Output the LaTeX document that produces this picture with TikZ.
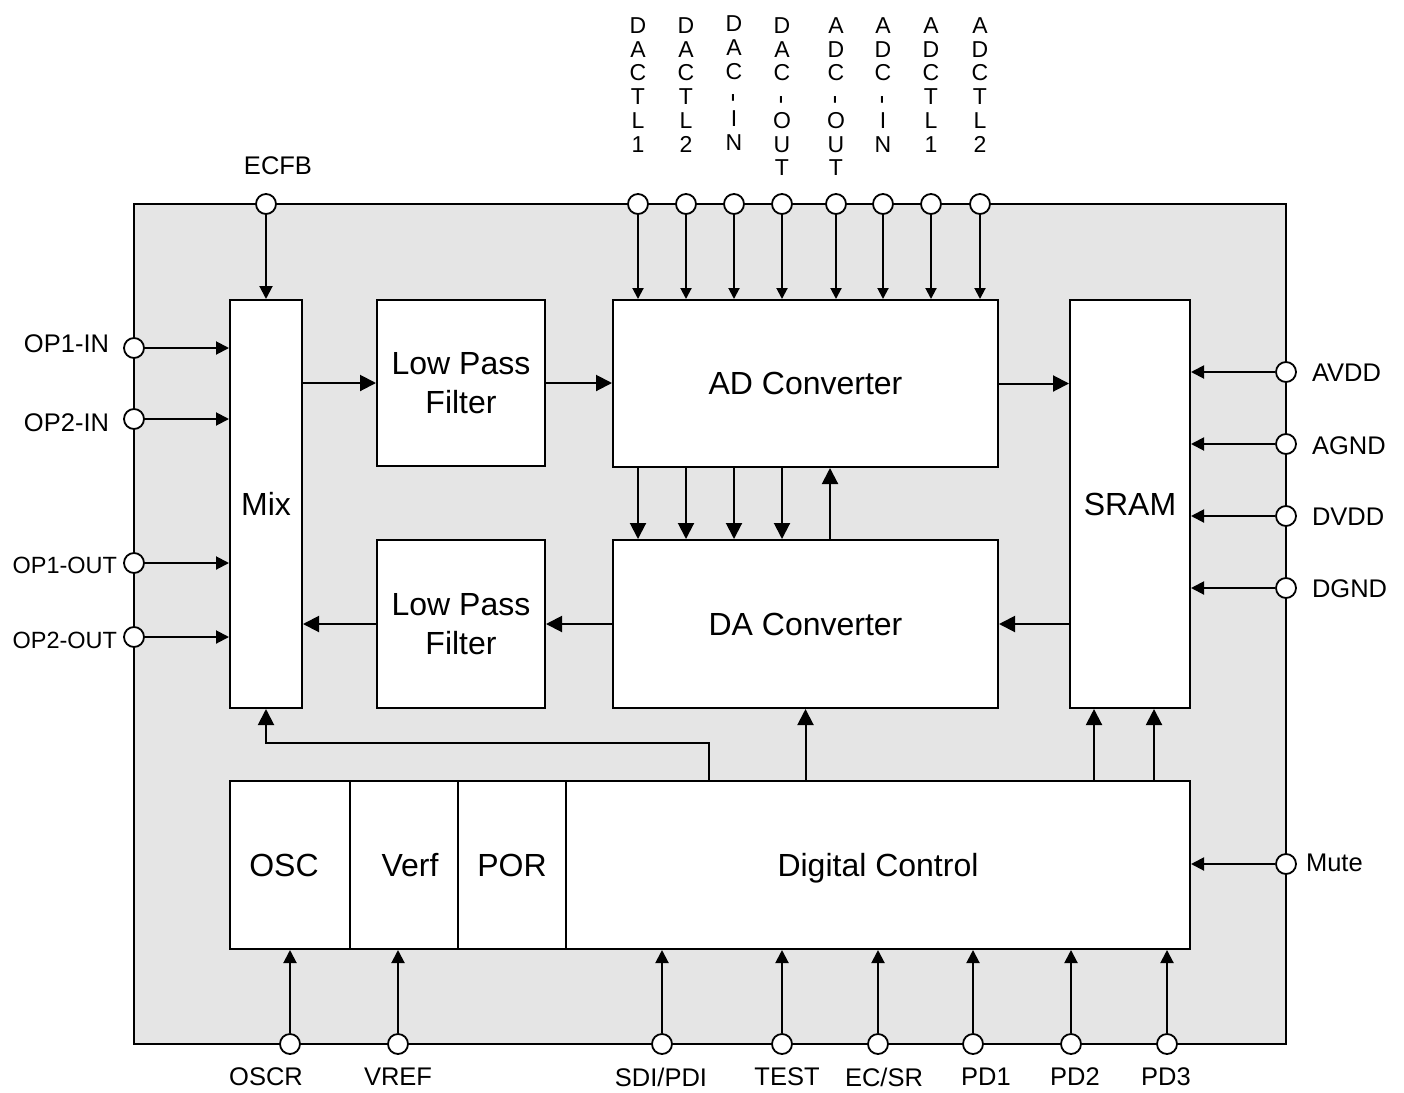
\documentclass[tikz,border=0pt]{standalone}
\usepackage{fontspec}
\setmainfont{Liberation Sans}
\usetikzlibrary{arrows.meta}
\definecolor{chipgray}{RGB}{229,229,229}
\newcommand{\vhy}{\rotatebox{90}{\raisebox{-0.232em}[0.082em][0pt]{\scalebox{1.2}[1.15]{-}}}}
\begin{document}
\begin{tikzpicture}[x=1pt,y=-1pt,line width=2pt,
  blk/.style={draw,fill=white,inner sep=0pt,font=\fontsize{32}{39}\selectfont,align=center},
  pinc/.style={draw,circle,fill=white,minimum size=20pt,inner sep=0pt,line width=1.8pt},
  plab/.style={inner sep=0pt,font=\fontsize{25.5}{28}\selectfont},
  olab/.style={inner sep=0pt,font=\fontsize{23.5}{26}\selectfont},
  vlab/.style={inner sep=0pt,font=\fontsize{23}{23.7}\selectfont,align=center,anchor=north},
  arbig/.style={-{Triangle[length=16pt,width=16pt]}},
  arsm/.style={-{Triangle[length=13pt,width=13pt]}},
  artiny/.style={-{Triangle[length=11pt,width=11pt]}}]
\useasboundingbox (0,0) rectangle (1404,1092);
% chip outline
\node[draw,fill=chipgray,minimum width=1152pt,minimum height=840pt,inner sep=0pt] (chip) at (710,624) {};
% blocks
\node[blk,minimum width=72pt,minimum height=408pt] (mix) at (266,504) {Mix};
\node[blk,minimum width=168pt,minimum height=166pt] (lpf1) at (461,383) {Low Pass\\Filter};
\node[blk,minimum width=168pt,minimum height=168pt] (lpf2) at (461,624) {Low Pass\\Filter};
\node[blk,minimum width=385pt,minimum height=167pt] (ad) at (805.5,383.5) {AD Converter};
\node[blk,minimum width=385pt,minimum height=168pt] (da) at (805.5,624) {DA Converter};
\node[blk,minimum width=120pt,minimum height=408pt] (sram) at (1130,504) {SRAM};
\node[blk,minimum width=120pt,minimum height=168pt] (osc) at (290,865) {OSC\hspace{12pt}};
\node[blk,minimum width=108pt,minimum height=168pt] (verf) at (404,865) {\hspace{12pt}Verf};
\node[blk,minimum width=108pt,minimum height=168pt] (por) at (512,865) {POR};
\node[blk,minimum width=624pt,minimum height=168pt,text depth=0pt] (dcl) at (878,865) {Digital Control};
% pins
\node[pinc] (ecfb) at (266,204) {};
\foreach \i/\x in {1/638,2/686,3/734,4/782,5/836,6/883,7/931,8/980}
  \node[pinc] (p\i) at (\x,204) {};
\node[pinc] (op1in) at (134,348) {};
\node[pinc] (op2in) at (134,419) {};
\node[pinc] (op1out) at (134,563) {};
\node[pinc] (op2out) at (134,637) {};
\node[pinc] (avdd) at (1286,372) {};
\node[pinc] (agnd) at (1286,444) {};
\node[pinc] (dvdd) at (1286,516) {};
\node[pinc] (dgnd) at (1286,588) {};
\node[pinc] (mute) at (1286,864) {};
\node[pinc] (oscr) at (290,1044) {};
\node[pinc] (vref) at (398,1044) {};
\node[pinc] (sdi) at (662,1044) {};
\node[pinc] (test) at (782,1044) {};
\node[pinc] (ecsr) at (878,1044) {};
\node[pinc] (pd1) at (973,1044) {};
\node[pinc] (pd2) at (1071,1044) {};
\node[pinc] (pd3) at (1167,1044) {};
% pin labels
\node[plab] (lecfb) at (278,166) {ECFB};
\node[vlab] (l1) at (638,16.7) {D\\A\\C\\T\\L\\1};
\node[vlab] (l2) at (686,16.7) {D\\A\\C\\T\\L\\2};
\node[vlab] (l3) at (734,15) {D\\A\\C\\\vhy\\I\\N};
\node[vlab] (l4) at (782,16.7) {D\\A\\C\\\vhy\\O\\U\\T};
\node[vlab] (l5) at (836,16.7) {A\\D\\C\\\vhy\\O\\U\\T};
\node[vlab] (l6) at (883,16.7) {A\\D\\C\\\vhy\\I\\N};
\node[vlab] (l7) at (931,16.7) {A\\D\\C\\T\\L\\1};
\node[vlab] (l8) at (980,16.7) {A\\D\\C\\T\\L\\2};
\node[plab,anchor=east] (lop1in) at (110,344) {OP1-IN};
\node[plab,anchor=east] (lop2in) at (110,423) {OP2-IN};
\node[olab,anchor=east] (lop1out) at (118,565) {OP1-OUT};
\node[olab,anchor=east] (lop2out) at (118,640) {OP2-OUT};
\node[plab,anchor=west] (lavdd) at (1311,373) {AVDD};
\node[plab,anchor=west] (lagnd) at (1311,446) {AGND};
\node[plab,anchor=west] (ldvdd) at (1311,517) {DVDD};
\node[plab,anchor=west] (ldgnd) at (1311,589) {DGND};
\node[plab,anchor=west] (lmute) at (1305,863) {Mute};
\node[plab] (loscr) at (266,1077) {OSCR};
\node[plab] (lvref) at (398,1077) {VREF};
\node[plab] (lsdi) at (661,1077) {SDI/PDI};
\node[plab] (ltest) at (787,1077) {TEST};
\node[plab] (lecsr) at (884,1077) {EC/SR};
\node[plab] (lpd1) at (986,1077) {PD1};
\node[plab] (lpd2) at (1075,1077) {PD2};
\node[plab] (lpd3) at (1166,1077) {PD3};
% internal connectors
\draw[arbig] (mix.east |- lpf1) -- (lpf1.west);
\draw[arbig] (lpf1.east) -- (lpf1.east -| ad.west);
\draw[arbig] (ad.east) -- (ad.east -| sram.west);
\draw[arbig] (sram.west |- da) -- (da.east);
\draw[arbig] (da.west) -- (da.west -| lpf2.east);
\draw[arbig] (lpf2.west) -- (lpf2.west -| mix.east);
\foreach \i in {1,2,3,4}
  \draw[arbig] (ad.south -| p\i) -- (da.north -| p\i);
\coordinate (u1) at (830,0);
\draw[arbig] (da.north -| u1) -- (ad.south -| u1);
\draw[arbig] (dcl.north -| da.south) -- (da.south);
\coordinate (s1) at (1094,0);
\coordinate (s2) at (1154,0);
\draw[arbig] (dcl.north -| s1) -- (sram.south -| s1);
\draw[arbig] (dcl.north -| s2) -- (sram.south -| s2);
\coordinate (fbt) at (709,743);
\draw[arbig] (dcl.north -| fbt) -- (fbt) -| (mix.south);
% pin connectors
\draw[arsm] (ecfb) -- (mix.north);
\foreach \i in {1,...,8}
  \draw[artiny] (p\i) -- (ad.north -| p\i);
\foreach \c in {op1in,op2in,op1out,op2out}
  \draw[arsm] (\c) -- (mix.west |- \c);
\foreach \c in {avdd,agnd,dvdd,dgnd}
  \draw[arsm] (\c) -- (sram.east |- \c);
\draw[arsm] (mute) -- (dcl.east |- mute);
\draw[arsm] (oscr) -- (osc.south -| oscr);
\draw[arsm] (vref) -- (verf.south -| vref);
\foreach \c in {sdi,test,ecsr,pd1,pd2,pd3}
  \draw[arsm] (\c) -- (dcl.south -| \c);
\end{tikzpicture}
\end{document}
